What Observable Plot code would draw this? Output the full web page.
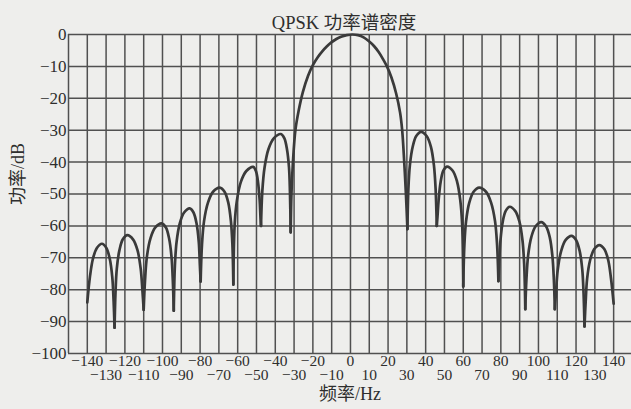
<!DOCTYPE html>
<html><head><meta charset="utf-8">
<script src="https://cdn.jsdelivr.net/npm/d3@7"></script>
<script src="https://cdn.jsdelivr.net/npm/@observablehq/plot@0.6"></script>
<style>
html,body{margin:0;padding:0;background:#eeeeec;}
</style></head><body><div id="chart"></div>
<script>
const titleText = "QPSK 功率谱密度";
const xLabelText = "频率/Hz";
const yLabelText = "功率/dB";

const yTicks = [0, -10, -20, -30, -40, -50, -60, -70, -80, -90, -100];
const xTicksTop = [-140, -120, -100, -80, -60, -40, -20, 0, 20, 40, 60, 80, 100, 120, 140];
const xTicksBottom = [-130, -110, -90, -70, -50, -30, -10, 10, 30, 50, 70, 90, 110, 130];
const xGrid = [-150, -140, -130, -120, -110, -100, -90, -80, -70, -60, -50, -40, -30, -20, -10, 0, 10, 20, 30, 40, 50, 60, 70, 80, 90, 100, 110, 120, 130, 140];
const yGrid = [0, -10, -20, -30, -40, -50, -60, -70, -80, -90, -100];

// Frequency (Hz) of the points read along each lobe of the spectrum
const lobeHz = [
  [-140, -138.6, -137.0, -134.9, -132.2, -129.85, -128.05, -126.7, -126.0, -125.5],
  [-125.5, -125.0, -124.3, -122.9, -121.1, -118.7, -115.7, -113.3, -111.6, -110.6, -110],
  [-110, -109.3, -108.3, -106.4, -103.8, -100.5, -98.2, -96.5, -95.2, -94.5, -94],
  [-94, -93.4, -92.5, -90.8, -88.5, -85.5, -83.5, -81.9, -80.7, -80.1, -79.7],
  [-79.7, -79.0, -77.9, -75.8, -73.1, -69.5, -67.0, -65.0, -63.6, -62.8, -62.3],
  [-62.3, -61.6, -60.4, -58.3, -55.4, -51.7, -50.3, -49.2, -48.3, -47.9, -47.6],
  [-47.6, -46.9, -45.7, -43.6, -40.7, -37, -35.2, -33.8, -32.7, -32.2, -31.8],
  [-31.8, -31.4, -30.6, -29.3, -27.6, -25.3, -22.6, -20, -17.5, -15, -12.5, -10, -7.5, -5, -2, 1,
   4, 7, 10, 12.5, 15, 17.3, 19.4, 21.8, 24.3, 26.4, 27.5, 28.6, 29.5, 30.3],
  [30.3, 30.8, 31.6, 33.1, 35.0, 37.6, 40.5, 42.8, 44.4, 45.3, 45.9],
  [45.9, 46.3, 46.9, 48.0, 49.4, 51.3, 54.4, 56.7, 58.4, 59.4, 60],
  [60, 60.6, 61.5, 63.2, 65.5, 68.5, 72.1, 74.8, 76.9, 78.0, 78.7],
  [78.7, 79.1, 79.8, 81.0, 82.6, 84.7, 87.6, 89.9, 91.5, 92.4, 93],
  [93, 93.6, 94.5, 96.2, 98.5, 101.5, 104.0, 106.0, 107.4, 108.2, 108.7],
  [108.7, 109.3, 110.3, 112.1, 114.5, 117.6, 120.0, 121.9, 123.3, 124.0, 124.5],
  [124.5, 125.1, 125.9, 127.5, 129.6, 132.4, 135.1, 137.1, 138.6, 140]
];
// Power (dB) of those points
const lobeDb = [
  [-84, -76, -70.3, -66.9, -65.6, -66.9, -70.3, -76.1, -83.6, -91.9],
  [-91.9, -80.9, -73.4, -67.6, -64.2, -62.9, -64.2, -67.6, -73.4, -80.9, -86.3],
  [-86.3, -77.2, -69.7, -63.9, -60.5, -59.2, -60.5, -63.9, -69.7, -77.2, -86.6],
  [-86.6, -72.5, -65.0, -59.2, -55.8, -54.5, -55.8, -59.2, -65.0, -72.5, -77.4],
  [-77.4, -66, -58.5, -52.7, -49.3, -48, -49.3, -52.7, -58.5, -66, -78.4],
  [-78.4, -59.5, -52, -46.2, -42.8, -41.5, -42.8, -46.2, -52, -57, -60],
  [-60, -49.2, -41.7, -35.9, -32.5, -31.2, -32.5, -35.9, -41.7, -49.2, -62],
  [-62, -50, -40, -30, -24, -18, -13, -9.6, -7.2, -5.3, -3.7, -2.4, -1.4, -0.7, -0.2, 0,
   -0.2, -0.9, -2.2, -3.6, -5.5, -7.7, -10, -13.5, -18.5, -24.5, -30, -40, -50, -61],
  [-61, -48.5, -41, -35.2, -31.8, -30.5, -31.8, -35.2, -41, -48.5, -60],
  [-60, -57, -51.9, -46.1, -42.7, -41.4, -42.7, -46.1, -51.9, -59.4, -79],
  [-79, -66, -58.5, -52.7, -49.3, -48, -49.3, -52.7, -58.5, -66, -77.3],
  [-77.3, -72, -64.5, -58.7, -55.3, -54, -55.3, -58.7, -64.5, -72, -86.1],
  [-86.1, -76.8, -69.3, -63.5, -60.1, -58.8, -60.1, -63.5, -69.3, -76.8, -86.1],
  [-86.1, -81.1, -73.6, -67.8, -64.4, -63.1, -64.4, -67.8, -73.6, -81.1, -91.5],
  [-91.5, -84, -76.5, -70.7, -67.3, -66, -67.3, -70.7, -76.5, -84.4]
];

const rows = [];
lobeHz.forEach((xs, i) => xs.forEach((x, j) => rows.push({lobe: i, hz: x, db: lobeDb[i][j]})));

const ink = "#2e2e2e";
const gridColor = "#505050";

const chart = Plot.plot({
  width: 631,
  height: 409,
  marginLeft: 68,
  marginRight: 0,
  marginTop: 34,
  marginBottom: 56,
  x: {domain: [-150, 149.5]},
  y: {domain: [-100, 0]},
  style: {background: "#eeeeec", fontFamily: "'Liberation Serif', 'Noto Sans CJK SC', serif", color: ink},
  marks: [
    Plot.gridX(xGrid, {stroke: gridColor, strokeOpacity: 1, strokeWidth: 1.5}),
    Plot.gridY(yGrid, {stroke: gridColor, strokeOpacity: 1, strokeWidth: 1.5}),
    Plot.line(rows, {x: "hz", y: "db", z: "lobe", curve: "catmull-rom", stroke: "#3a3a3a", strokeWidth: 2.7}),
    Plot.axisY({ticks: yTicks, tickSize: 0, tickPadding: 2, fontSize: 17, label: null, fill: ink}),
    Plot.axisX({ticks: xTicksTop, tickSize: 0, tickPadding: 1, fontSize: 15.5, label: null, fill: ink}),
    Plot.axisX({ticks: xTicksBottom, tickSize: 0, tickPadding: 15, fontSize: 15.5, label: null, fill: ink}),
    Plot.text([titleText], {text: d => d, frameAnchor: "top", dy: -19, dx: -6, fontSize: 18.5, fill: ink}),
    Plot.text([xLabelText], {text: d => d, frameAnchor: "bottom", dy: 46, fontSize: 18, fill: ink}),
    Plot.text([yLabelText], {text: d => d, frameAnchor: "left", dx: -50, dy: 11, rotate: -90, fontSize: 18, fill: ink})
  ]
});
document.getElementById("chart").appendChild(chart);
</script></body></html>
